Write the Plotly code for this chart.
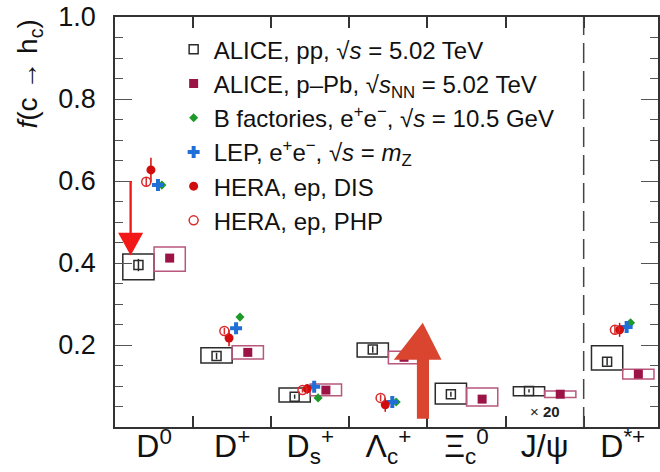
import plotly.graph_objects as go

# Hadron species (category k sits between x=k and x=k+1)
species = ["D<sup>0</sup>", "D<sup>+</sup>", "D<sub>s</sub><sup>+</sup>",
           "Λ<sub>c</sub><sup>+</sup>", "Ξ<sub>c</sub><sup>0</sup>", "J/ψ", "D<sup>*+</sup>"]

JPSI_SCALE = 20  # J/psi values are displayed multiplied by this factor

# ALICE pp, sqrt(s) = 5.02 TeV (J/psi entry unscaled)
pp_val = [0.395, 0.173, 0.074, 0.189, 0.080, 0.0044, 0.159]
pp_stat = [0.015, 0.008, 0.005, 0.008, 0.006, 0.0002, 0.009]
pp_sys_hi = [0.027, 0.020, 0.021, 0.016, 0.027, 0.0005, 0.039]
pp_sys_lo = [0.036, 0.017, 0.013, 0.018, 0.024, 0.0006, 0.020]

# ALICE p-Pb, sqrt(sNN) = 5.02 TeV
ppb_val = [0.412, 0.182, 0.090, 0.170, 0.068, 0.0040, 0.129]
ppb_stat = [0.010, 0.006, 0.005, 0.008, 0.007, 0.0002, 0.006]
ppb_sys_hi = [0.027, 0.016, 0.015, 0.015, 0.027, 0.0004, 0.012]
ppb_sys_lo = [0.032, 0.016, 0.014, 0.016, 0.017, 0.0004, 0.012]

# Other experiments: category index, value, uncertainty
bfac_idx = [0, 1, 2, 3, 6]
bfac_val = [0.590, 0.268, 0.071, 0.061, 0.254]
bfac_err = [0.008, 0.009, 0.006, 0.006, 0.009]

lep_idx = [0, 1, 2, 3, 6]
lep_val = [0.590, 0.241, 0.098, 0.061, 0.244]
lep_err = [0.006, 0.008, 0.005, 0.005, 0.007]

dis_idx = [0, 1, 2, 3, 6]
dis_val = [0.627, 0.217, 0.093, 0.054, 0.237]
dis_err = [0.030, 0.020, 0.012, 0.017, 0.017]

php_idx = [0, 1, 2, 3, 6]
php_val = [0.598, 0.234, 0.090, 0.071, 0.237]
php_err = [0.012, 0.008, 0.006, 0.008, 0.010]

JPSI = species.index("J/ψ")


def shown(vals):
    return [v * JPSI_SCALE if i == JPSI else v for i, v in enumerate(vals)]


pp_y, pp_e = shown(pp_val), shown(pp_stat)
pp_hi, pp_lo = shown(pp_sys_hi), shown(pp_sys_lo)
ppb_y, ppb_e = shown(ppb_val), shown(ppb_stat)
ppb_hi, ppb_lo = shown(ppb_sys_hi), shown(ppb_sys_lo)

n = len(species)
FONT = "Liberation Sans, Arial, Helvetica, sans-serif"
C_PP = "#2b2b2b"
C_PPB = "#9c1346"
C_PPB_BOX = "#b8577c"
C_B = "#1e9a2a"
C_LEP = "#1f6fd6"
C_DIS = "#d00c0c"
C_PHP = "#dc2a2a"

fig = go.Figure()

fig.add_trace(go.Scatter(
    x=[k + 0.3 for k in range(n)], y=pp_y, mode="markers", legendgroup="pp",
    name="ALICE, pp, √<i>s</i> = 5.02 TeV",
    marker=dict(symbol="square-open", size=9, color=C_PP, line=dict(width=1.5)),
    error_y=dict(type="data", array=pp_e, width=0, thickness=1.5, color=C_PP),
))
fig.add_trace(go.Scatter(
    x=[k + 0.7 for k in range(n)], y=ppb_y, mode="markers", legendgroup="ppb",
    name="ALICE, p–Pb, √<i>s</i><sub>NN</sub> = 5.02 TeV",
    marker=dict(symbol="square", size=9, color=C_PPB),
    error_y=dict(type="data", array=ppb_e, width=0, thickness=1.5, color=C_PPB),
))
fig.add_trace(go.Scatter(
    x=[k + 0.6 for k in bfac_idx], y=bfac_val, mode="markers", legendgroup="bfac",
    name="B factories, e<sup>+</sup>e<sup>−</sup>, √<i>s</i> = 10.5 GeV",
    marker=dict(symbol="diamond", size=7, color=C_B),
    error_y=dict(type="data", array=bfac_err, width=0, thickness=1.5, color=C_B),
))
fig.add_trace(go.Scatter(
    x=[k + 0.55 for k in lep_idx], y=lep_val, mode="markers", legendgroup="lep",
    name="LEP, e<sup>+</sup>e<sup>−</sup>, √<i>s</i> = <i>m</i><sub>Z</sub>",
    marker=dict(symbol="cross", size=10, color=C_LEP),
    error_y=dict(type="data", array=lep_err, width=0, thickness=1.5, color=C_LEP),
))
fig.add_trace(go.Scatter(
    x=[k + 0.46 for k in dis_idx], y=dis_val, mode="markers", legendgroup="dis",
    name="HERA, ep, DIS",
    marker=dict(symbol="circle", size=9, color=C_DIS),
    error_y=dict(type="data", array=dis_err, width=0, thickness=1.5, color=C_DIS),
))
fig.add_trace(go.Scatter(
    x=[k + 0.4 for k in php_idx], y=php_val, mode="markers", legendgroup="php",
    name="HERA, ep, PHP",
    marker=dict(symbol="circle-open", size=9, color=C_PHP, line=dict(width=1.5)),
    error_y=dict(type="data", array=php_err, width=0, thickness=1.5, color=C_PHP),
))

# systematic-uncertainty boxes
for k in range(n):
    fig.add_shape(type="rect", xref="x", yref="y", layer="below",
                  x0=k + 0.1, x1=k + 0.5, y0=pp_y[k] - pp_lo[k], y1=pp_y[k] + pp_hi[k],
                  line=dict(color=C_PP, width=1.5))
    fig.add_shape(type="rect", xref="x", yref="y", layer="below",
                  x0=k + 0.5, x1=k + 0.9, y0=ppb_y[k] - ppb_lo[k], y1=ppb_y[k] + ppb_hi[k],
                  line=dict(color=C_PPB_BOX, width=1.5))

# separator before D*+
fig.add_shape(type="line", xref="x", yref="y", x0=6, x1=6, y0=0, y1=1,
              line=dict(color="#444444", width=1.5, dash="20px,8px"))

# red arrow pointing down to D0
fig.add_shape(type="path", xref="x", yref="y", layer="above",
              path="M 0.185 0.600 L 0.215 0.600 L 0.215 0.474 L 0.36 0.474 "
                   "L 0.20 0.418 L 0.04 0.474 L 0.185 0.474 Z",
              fillcolor="#f21818", line=dict(width=0))
# large arrow pointing up near Lambda_c
fig.add_shape(type="path", xref="x", yref="y", layer="above",
              path="M 3.865 0.020 L 4.02 0.020 L 4.02 0.164 L 4.18 0.164 "
                   "L 3.94 0.254 L 3.57 0.164 L 3.865 0.164 Z",
              fillcolor="#da4530", line=dict(width=0))

fig.add_annotation(x=5.5, y=0.038, xref="x", yref="y", showarrow=False,
                   text="× <b>20</b>", font=dict(family=FONT, size=15, color="#222"))

fig.add_annotation(x=-0.158, y=0.86, xref="paper", yref="paper", showarrow=False,
                   textangle=-90, xanchor="center", yanchor="middle",
                   text="<i>f</i>(c → h<sub>c</sub>)",
                   font=dict(family=FONT, size=28, color="#111"))

fig.update_layout(
    width=660, height=472,
    margin=dict(l=115, r=0, t=17, b=45),
    paper_bgcolor="white", plot_bgcolor="white",
    font=dict(family=FONT, color="#111"),
    showlegend=True,
    legend=dict(x=0.108, y=0.975, xanchor="left", yanchor="top",
                font=dict(family=FONT, size=24, color="#111"),
                bgcolor="rgba(0,0,0,0)", tracegroupgap=0,
                itemwidth=30),
    xaxis=dict(range=[0, 545 / 78.4], showgrid=False, zeroline=False,
               showline=True, linecolor="#333", linewidth=1.5, mirror="ticks",
               tickvals=[k + 0.5 for k in range(n)], ticktext=species,
               ticks="", ticklabelstandoff=-10,
               tickfont=dict(family=FONT, size=32, color="#111"),
               minor=dict(tickvals=list(range(1, n)), ticks="inside",
                          ticklen=11, tickwidth=1.5, tickcolor="#333")),
    yaxis=dict(range=[0, 1.0], showgrid=False, zeroline=False,
               showline=True, linecolor="#333", linewidth=1.5, mirror="ticks",
               tickvals=[0.2, 0.4, 0.6, 0.8, 1.0], ticktext=["0.2", "0.4", "0.6", "0.8", "1.0"],
               ticks="inside", ticklen=17, tickwidth=1.2, tickcolor="#555",
               ticklabelstandoff=12,
               tickfont=dict(family=FONT, size=27, color="#111"),
               minor=dict(dtick=0.05, ticks="inside", ticklen=8,
                          tickwidth=1.2, tickcolor="#555")),
)

fig.write_html("out.html")
